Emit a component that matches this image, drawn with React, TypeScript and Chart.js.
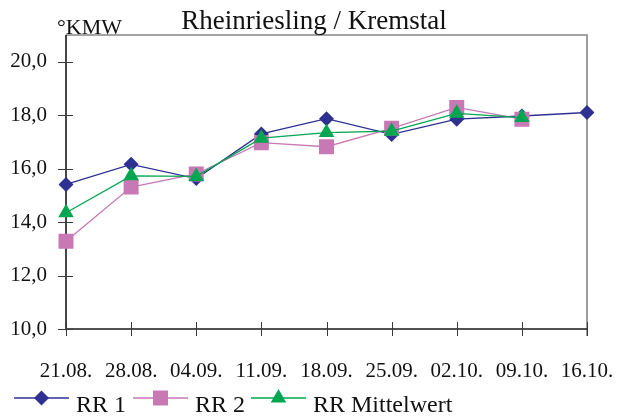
import React, { useEffect, useRef } from 'react';
import { Chart, registerables } from 'chart.js';
import { drawPoint } from 'chart.js/helpers';

Chart.register(...registerables);

// Sampling dates
const weeks = ['21.08.', '28.08.', '04.09.', '11.09.', '18.09.', '25.09.', '02.10.', '09.10.', '16.10.'];

// Must weight in °KMW
const rr1 = [15.41, 16.16, 15.63, 17.3, 17.87, 17.28, 17.85, 17.97, 18.1];
const rr2 = [13.28, 15.31, 15.8, 16.97, 16.82, 17.51, 18.29, 17.85, null];
const rrMittelwert = [14.35, 15.73, 15.71, 17.14, 17.35, 17.4, 18.07, 17.91, null];

const yTickValues = [10, 12, 14, 16, 18, 20];

const titleText = 'Rheinriesling / Kremstal';
const unitText = '°KMW';

const FONT = '"Liberation Serif", "DejaVu Serif", serif';
const TEXT_COLOR = '#111111';

const NAVY = '#2E3192';
const PINK = '#C879B5';
const GREEN = '#00A651';

// Legend layout: left edge of each sample line
const legendX = [14, 133, 251];
const legendSampleWidth = 55;
const legendLineY = 398;

const decorPlugin = {
  id: 'decor',
  beforeDatasetsDraw(chart: any) {
    const { ctx, chartArea, scales } = chart;
    const { left, right, top, bottom } = chartArea;
    ctx.save();
    // grey frame (top + right)
    ctx.strokeStyle = '#858585';
    ctx.lineWidth = 1.6;
    ctx.beginPath();
    ctx.moveTo(left, top);
    ctx.lineTo(right, top);
    ctx.lineTo(right, bottom + 7);
    ctx.stroke();
    // axes
    ctx.strokeStyle = '#1a1a1a';
    ctx.lineWidth = 1.6;
    ctx.beginPath();
    ctx.moveTo(left, top);
    ctx.lineTo(left, bottom);
    ctx.lineTo(right, bottom);
    ctx.stroke();
    // tick marks crossing the axes
    ctx.strokeStyle = '#3a3a3a';
    ctx.lineWidth = 1;
    ctx.beginPath();
    yTickValues.forEach((v) => {
      const y = Math.round(scales.y.getPixelForValue(v)) + 0.5;
      ctx.moveTo(left - 8, y);
      ctx.lineTo(left + 7, y);
    });
    weeks.forEach((_, i) => {
      const x = Math.round(scales.x.getPixelForValue(i)) + 0.5;
      ctx.moveTo(x, bottom - 7);
      ctx.lineTo(x, bottom + 7);
    });
    ctx.stroke();
    ctx.restore();
  },
  afterDraw(chart: any) {
    const { ctx } = chart;
    ctx.save();
    ctx.fillStyle = TEXT_COLOR;
    ctx.textBaseline = 'alphabetic';
    // title
    ctx.font = `27px ${FONT}`;
    ctx.textAlign = 'center';
    ctx.fillText(titleText, 314, 29);
    // unit label
    ctx.font = `22px ${FONT}`;
    ctx.textAlign = 'left';
    ctx.fillText(unitText, 57, 34);
    // legend
    ctx.font = `24px ${FONT}`;
    chart.data.datasets.forEach((ds: any, i: number) => {
      const x0 = legendX[i];
      ctx.strokeStyle = ds.borderColor;
      ctx.lineWidth = 1.3;
      ctx.beginPath();
      ctx.moveTo(x0, legendLineY);
      ctx.lineTo(x0 + legendSampleWidth, legendLineY);
      ctx.stroke();
      ctx.fillStyle = ds.pointBackgroundColor;
      drawPoint(
        ctx,
        { pointStyle: ds.pointStyle, radius: ds.pointRadius, rotation: 0, borderWidth: 0 } as any,
        x0 + legendSampleWidth / 2,
        legendLineY
      );
      ctx.fillStyle = TEXT_COLOR;
      ctx.fillText(ds.label, x0 + legendSampleWidth + 7, 412);
    });
    ctx.restore();
  },
};

export default function App() {
  const canvasRef = useRef<HTMLCanvasElement | null>(null);

  useEffect(() => {
    if (!canvasRef.current) return;
    const line = (label: string, data: (number | null)[], color: string, style: string, radius: number, order: number) => ({
      label,
      data,
      borderColor: color,
      backgroundColor: color,
      pointBackgroundColor: color,
      pointBorderColor: color,
      pointBorderWidth: 0,
      pointStyle: style,
      pointRadius: radius,
      borderWidth: 1.3,
      tension: 0,
      spanGaps: false,
      order,
    });

    const chart = new Chart(canvasRef.current, {
      type: 'line',
      data: {
        labels: weeks,
        datasets: [
          line('RR 1', rr1, NAVY, 'rectRot', 7.5, 3),
          line('RR 2', rr2, PINK, 'rect', 10.6, 2),
          line('RR Mittelwert', rrMittelwert, GREEN, 'triangle', 9, 1),
        ],
      },
      options: {
        responsive: false,
        animation: false,
        layout: { padding: { top: 35, right: 30, left: 0, bottom: 0 } },
        plugins: {
          legend: { display: false },
          title: { display: false },
          tooltip: { enabled: false },
        },
        scales: {
          x: {
            offset: false,
            grid: { display: false },
            border: { display: false },
            ticks: {
              color: TEXT_COLOR,
              font: { family: FONT, size: 21 },
              padding: 22,
              maxRotation: 0,
              autoSkip: false,
            },
            afterFit: (scale: any) => {
              scale.height = 87;
              scale.paddingLeft = 0;
              scale.paddingRight = 0;
            },
          },
          y: {
            min: 10,
            max: 21,
            grid: { display: false },
            border: { display: false },
            afterBuildTicks: (scale: any) => {
              scale.ticks = yTickValues.map((v) => ({ value: v }));
            },
            ticks: {
              color: TEXT_COLOR,
              font: { family: FONT, size: 21 },
              padding: 11,
              callback: (v: any) => Number(v).toFixed(1).replace('.', ','),
            },
            afterFit: (scale: any) => {
              scale.width = 66;
              scale.paddingTop = 0;
              scale.paddingBottom = 0;
            },
          },
        },
      },
      plugins: [decorPlugin],
    });
    return () => chart.destroy();
  }, []);

  return (
    <div style={{ position: 'absolute', left: 0, top: 0, width: 617, height: 416, background: '#fff' }}>
      <canvas ref={canvasRef} width={617} height={416} style={{ display: 'block' }} />
    </div>
  );
}
